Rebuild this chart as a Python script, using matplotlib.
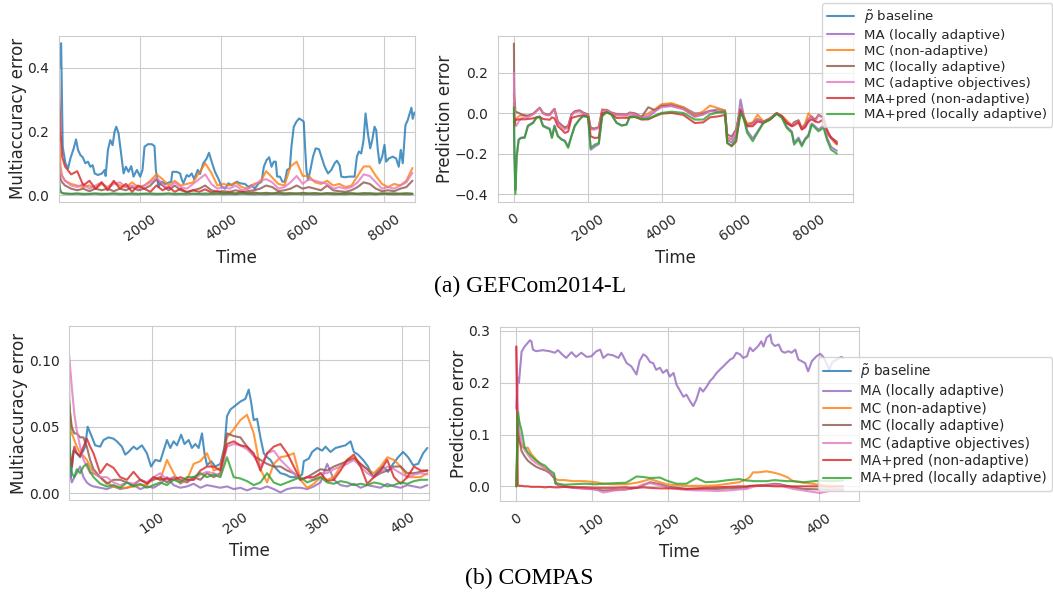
import matplotlib
matplotlib.use("Agg")
import matplotlib.pyplot as plt
import seaborn as sns

sns.set_style("whitegrid")
plt.rcParams["font.family"] = ["DejaVu Sans"]

methods = [
    r"$\tilde{p}$ baseline",
    "MA (locally adaptive)",
    "MC (non-adaptive)",
    "MC (locally adaptive)",
    "MC (adaptive objectives)",
    "MA+pred (non-adaptive)",
    "MA+pred (locally adaptive)",
]
colors = ["tab:blue", "tab:purple", "tab:orange", "tab:brown",
          "tab:pink", "tab:red", "tab:green"]

# ---------------- GEFCom2014-L: multiaccuracy error ----------------
gef_base_t = [10, 54, 93, 160, 225, 282, 364, 421, 470, 528, 585, 650, 716, 773, 830,
              880, 961, 1060, 1125, 1150, 1206, 1264, 1321, 1370, 1411, 1468, 1509,
              1551, 1591, 1649, 1713, 1779, 1836, 1918, 2000, 2057, 2106, 2189, 2287,
              2352, 2385, 2449, 2532, 2610, 2761, 2793, 2900, 2982, 3020, 3063, 3146,
              3200, 3268, 3330, 3416, 3470, 3554, 3636, 3693, 3759, 3840, 3922, 4004,
              4090, 4170, 4250, 4380, 4454, 4577, 4658, 4741, 4822, 4904, 4986, 5043,
              5109, 5174, 5232, 5288, 5337, 5370, 5437, 5501, 5558, 5615, 5681, 5722,
              5779, 5845, 5910, 5975, 6025, 6057, 6090, 6131, 6188, 6253, 6319, 6401,
              6458, 6540, 6622, 6704, 6785, 6842, 6908, 6949, 7030, 7153, 7276, 7333,
              7382, 7440, 7497, 7546, 7603, 7661, 7710, 7767, 7808, 7848, 7890, 7955,
              8012, 8053, 8118, 8216, 8299, 8363, 8412, 8462, 8528, 8584, 8643, 8675,
              8707, 8750]
gef_base_ma = [0.40, 0.478, 0.152, 0.10, 0.084, 0.115, 0.147, 0.175, 0.142, 0.126, 0.119,
               0.10, 0.105, 0.089, 0.094, 0.068, 0.063, 0.068, 0.079, 0.06, 0.142, 0.173,
               0.157, 0.20, 0.215, 0.194, 0.152, 0.11, 0.068, 0.089, 0.073, 0.091, 0.058,
               0.079, 0.058, 0.079, 0.152, 0.16, 0.16, 0.154, 0.079, 0.026, 0.042, 0.035,
               0.042, 0.073, 0.073, 0.068, 0.05, 0.037, 0.063, 0.058, 0.068, 0.05, 0.079,
               0.066, 0.10, 0.115, 0.133, 0.105, 0.073, 0.052, 0.026, 0.02, 0.037, 0.031,
               0.042, 0.037, 0.035, 0.026, 0.031, 0.02, 0.035, 0.042, 0.089, 0.11, 0.119,
               0.089, 0.105, 0.105, 0.058, 0.058, 0.042, 0.042, 0.079, 0.084, 0.152, 0.215,
               0.231, 0.241, 0.236, 0.231, 0.152, 0.079, 0.047, 0.079, 0.121, 0.147, 0.144,
               0.121, 0.089, 0.068, 0.079, 0.10, 0.108, 0.094, 0.058, 0.056, 0.058, 0.058,
               0.121, 0.137, 0.131, 0.173, 0.257, 0.194, 0.147, 0.173, 0.215, 0.204, 0.142,
               0.10, 0.121, 0.158, 0.105, 0.115, 0.121, 0.115, 0.089, 0.142, 0.10, 0.22,
               0.236, 0.262, 0.275, 0.24, 0.26]

gef_t = [0, 15, 40, 80, 150, 300, 450, 600, 750, 900,
         1050, 1200, 1350, 1500, 1650, 1800, 1950, 2100, 2250, 2400,
         2550, 2700, 2850, 3000, 3150, 3300, 3450, 3600, 3750, 3900,
         4050, 4200, 4350, 4500, 4650, 4800, 4950, 5100, 5250, 5400,
         5550, 5700, 5850, 6000, 6150, 6300, 6450, 6600, 6750, 6900,
         7050, 7200, 7350, 7500, 7650, 7800, 7950, 8100, 8250, 8400,
         8550, 8700]
gef_ma_local = [0.06, 0.03, 0.012, 0.006, 0.004, 0.003, 0.004, 0.002, 0.003, 0.004,
                0.002, 0.003, 0.004, 0.002, 0.003, 0.003, 0.002, 0.004, 0.003, 0.002,
                0.003, 0.004, 0.002, 0.003, 0.002, 0.004, 0.003, 0.002, 0.003, 0.004,
                0.002, 0.003, 0.002, 0.004, 0.003, 0.002, 0.003, 0.002, 0.004, 0.003,
                0.002, 0.003, 0.004, 0.002, 0.003, 0.002, 0.003, 0.004, 0.002, 0.003,
                0.002, 0.004, 0.003, 0.002, 0.003, 0.002, 0.004, 0.003, 0.002, 0.003,
                0.002, 0.003]
gef_mc_non = [0.20, 0.15, 0.09, 0.06, 0.045, 0.035, 0.03, 0.025, 0.03, 0.02,
              0.035, 0.025, 0.04, 0.03, 0.025, 0.04, 0.025, 0.03, 0.045, 0.065,
              0.05, 0.03, 0.045, 0.03, 0.035, 0.04, 0.07, 0.10, 0.07, 0.03,
              0.035, 0.03, 0.04, 0.025, 0.02, 0.035, 0.04, 0.075, 0.055, 0.035,
              0.03, 0.09, 0.105, 0.06, 0.06, 0.04, 0.035, 0.045, 0.03, 0.035,
              0.025, 0.03, 0.06, 0.09, 0.09, 0.06, 0.035, 0.025, 0.035, 0.03,
              0.045, 0.085]
gef_mc_local = [0.10, 0.07, 0.05, 0.04, 0.03, 0.02, 0.015, 0.02, 0.012, 0.02,
                0.015, 0.02, 0.012, 0.02, 0.015, 0.025, 0.015, 0.02, 0.03, 0.05,
                0.03, 0.015, 0.03, 0.015, 0.01, 0.015, 0.02, 0.03, 0.015, 0.01,
                0.012, 0.01, 0.015, 0.01, 0.012, 0.015, 0.02, 0.03, 0.025, 0.012,
                0.015, 0.02, 0.03, 0.02, 0.025, 0.02, 0.015, 0.03, 0.015, 0.012,
                0.01, 0.015, 0.025, 0.04, 0.035, 0.02, 0.012, 0.015, 0.012, 0.02,
                0.025, 0.045]
gef_mc_obj = [0.12, 0.09, 0.07, 0.06, 0.045, 0.03, 0.025, 0.035, 0.02, 0.03,
              0.04, 0.02, 0.035, 0.04, 0.025, 0.03, 0.02, 0.03, 0.04, 0.055,
              0.035, 0.02, 0.04, 0.025, 0.02, 0.035, 0.05, 0.065, 0.035, 0.02,
              0.025, 0.02, 0.03, 0.015, 0.02, 0.03, 0.045, 0.05, 0.04, 0.02,
              0.025, 0.04, 0.06, 0.035, 0.05, 0.045, 0.04, 0.035, 0.02, 0.025,
              0.02, 0.025, 0.04, 0.065, 0.06, 0.04, 0.02, 0.025, 0.02, 0.03,
              0.04, 0.07]
gef_pred_non = [0.39, 0.30, 0.20, 0.12, 0.09, 0.065, 0.075, 0.03, 0.045, 0.02,
                0.04, 0.015, 0.045, 0.02, 0.035, 0.01, 0.03, 0.02, 0.01, 0.03,
                0.015, 0.025, 0.01, 0.02, 0.008, 0.015, 0.01, 0.018, 0.008, 0.012,
                0.006, 0.008, 0.005, 0.01, 0.006, 0.008, 0.005, 0.007, 0.005, 0.008,
                0.005, 0.006, 0.004, 0.007, 0.005, 0.006, 0.004, 0.006, 0.005, 0.004,
                0.006, 0.005, 0.004, 0.006, 0.005, 0.004, 0.005, 0.004, 0.005, 0.004,
                0.005, 0.004]
gef_pred_local = [0.055, 0.025, 0.01, 0.006, 0.005, 0.004, 0.005, 0.004, 0.004, 0.005,
                  0.004, 0.004, 0.005, 0.004, 0.004, 0.005, 0.004, 0.004, 0.005, 0.004,
                  0.004, 0.005, 0.004, 0.004, 0.005, 0.004, 0.004, 0.005, 0.004, 0.004,
                  0.005, 0.004, 0.004, 0.005, 0.004, 0.004, 0.005, 0.004, 0.004, 0.005,
                  0.004, 0.004, 0.005, 0.004, 0.004, 0.005, 0.004, 0.004, 0.005, 0.004,
                  0.004, 0.005, 0.004, 0.004, 0.005, 0.004, 0.004, 0.005, 0.004, 0.004,
                  0.005, 0.004]

# ---------------- GEFCom2014-L: prediction error ----------------
gef_pt = [0, 10, 40, 75, 130, 200, 290, 380, 520, 610,
          700, 790, 880, 970, 1030, 1100, 1190, 1290, 1380, 1470,
          1560, 1650, 1780, 1870, 2010, 2080, 2190, 2300, 2390, 2510,
          2640, 2780, 2920, 3050, 3140, 3280, 3460, 3640, 3820, 4000,
          4270, 4590, 4900, 5130, 5310, 5540, 5720, 5780, 5900, 6020,
          6140, 6220, 6320, 6470, 6600, 6760, 6940, 7120, 7260, 7390,
          7530, 7590, 7710, 7800, 7890, 7980, 8070, 8160, 8250, 8390,
          8480, 8590, 8660, 8750]
gef_pe_ma_local = [0.05, -0.12, -0.38, -0.21, -0.13, -0.12, -0.118, -0.06, -0.045, -0.02,
                   -0.015, -0.06, -0.068, -0.075, -0.118, -0.06, -0.11, -0.128, -0.135, -0.165,
                   -0.11, -0.06, -0.028, -0.012, -0.015, -0.18, -0.165, -0.152, -0.012, 0.008,
                   -0.004, -0.045, -0.06, -0.055, -0.015, -0.012, -0.022, -0.018, 0.01, 0.04,
                   0.045, 0.03, 0.0, 0.002, 0.012, 0.02, 0.015, -0.13, -0.145, -0.11,
                   0.068, -0.005, -0.085, -0.125, -0.09, -0.045, -0.028, 0.0, -0.02, -0.065,
                   -0.09, -0.145, -0.12, -0.155, -0.125, -0.105, -0.05, -0.065, -0.08, -0.062,
                   -0.12, -0.165, -0.175, -0.185]
gef_pe_mc_non = [0.10, 0.0, -0.03, -0.025, -0.015, -0.01, -0.012, -0.015, -0.004, 0.012,
                 0.025, 0.0, -0.008, -0.008, 0.006, 0.02, -0.045, -0.062, -0.075, -0.066,
                 -0.008, 0.008, 0.012, 0.002, -0.008, -0.078, -0.078, -0.07, 0.02, 0.012,
                 -0.002, -0.01, -0.01, -0.012, -0.002, -0.004, -0.02, 0.0, 0.02, 0.045,
                 0.05, 0.03, -0.01, 0.01, 0.038, 0.025, 0.012, -0.12, -0.128, -0.085,
                 0.02, -0.015, -0.05, -0.045, -0.007, -0.04, -0.025, 0.0, -0.012, -0.035,
                 -0.06, -0.045, -0.035, -0.075, -0.05, 0.0, -0.02, -0.03, -0.01, -0.02,
                 -0.10, -0.12, -0.14, -0.155]
gef_pe_mc_local = [0.345, 0.10, 0.01, 0.005, 0.002, -0.005, -0.01, -0.012, -0.002, 0.012,
                   0.028, 0.002, -0.005, -0.006, 0.008, 0.022, -0.04, -0.058, -0.07, -0.062,
                   -0.005, 0.01, 0.015, 0.004, -0.006, -0.072, -0.075, -0.068, 0.014, 0.018,
                   0.004, -0.003, -0.004, -0.006, 0.004, 0.0, -0.018, 0.03, 0.015, 0.035,
                   0.038, 0.022, -0.015, -0.004, 0.012, 0.008, 0.008, -0.105, -0.115, -0.08,
                   0.02, -0.018, -0.06, -0.05, -0.028, -0.042, -0.025, 0.002, -0.015, -0.045,
                   -0.06, -0.045, -0.035, -0.075, -0.06, -0.028, -0.015, -0.035, -0.008, -0.02,
                   -0.095, -0.118, -0.13, -0.14]
gef_pe_mc_obj = [0.20, 0.05, -0.064, -0.06, -0.04, -0.025, -0.02, -0.018, -0.005, 0.01,
                 0.026, 0.0, -0.01, -0.01, 0.005, 0.02, -0.048, -0.065, -0.08, -0.07,
                 -0.01, 0.005, 0.01, 0.0, -0.01, -0.08, -0.08, -0.073, 0.01, 0.015,
                 0.0, -0.007, -0.007, -0.01, 0.0, -0.005, -0.023, -0.01, 0.01, 0.03,
                 0.035, 0.02, -0.018, -0.007, 0.01, 0.005, 0.005, -0.122, -0.13, -0.09,
                 0.018, -0.02, -0.064, -0.055, -0.03, -0.045, -0.028, 0.0, -0.018, -0.048,
                 -0.064, -0.05, -0.04, -0.08, -0.065, -0.03, -0.018, -0.04, -0.01, -0.023,
                 -0.10, -0.122, -0.135, -0.147]
gef_pe_pred_non = [0.0, -0.06, -0.03, -0.032, -0.03, -0.03, -0.03, -0.028, -0.025, -0.02,
                   -0.018, -0.028, -0.03, -0.032, -0.02, -0.025, -0.064, -0.08, -0.097, -0.09,
                   -0.023, -0.018, -0.012, -0.01, -0.018, -0.114, -0.122, -0.12, 0.0, 0.005,
                   -0.005, -0.023, -0.022, -0.023, -0.02, -0.018, -0.031, -0.03, -0.015, -0.002,
                   0.002, -0.008, -0.048, -0.045, -0.02, -0.015, -0.008, -0.147, -0.163, -0.14,
                   0.015, -0.025, -0.064, -0.064, -0.04, -0.048, -0.031, -0.002, -0.015, -0.048,
                   -0.064, -0.06, -0.045, -0.08, -0.07, -0.04, -0.03, -0.04, -0.045, -0.03,
                   -0.08, -0.122, -0.13, -0.15]
gef_pe_pred_local = [0.03, -0.20, -0.40, -0.213, -0.13, -0.122, -0.122, -0.064, -0.048, -0.023,
                     -0.018, -0.064, -0.072, -0.08, -0.122, -0.064, -0.114, -0.13, -0.138, -0.171,
                     -0.114, -0.064, -0.031, -0.015, -0.018, -0.171, -0.155, -0.147, -0.015, 0.005,
                     -0.006, -0.048, -0.061, -0.056, -0.018, -0.018, -0.028, -0.028, -0.011, 0.002,
                     0.008, 0.002, -0.031, -0.031, -0.006, 0.005, 0.005, -0.147, -0.16, -0.13,
                     0.0, -0.023, -0.097, -0.138, -0.097, -0.048, -0.031, -0.002, -0.023, -0.072,
                     -0.097, -0.155, -0.13, -0.163, -0.13, -0.114, -0.056, -0.072, -0.089, -0.072,
                     -0.13, -0.18, -0.188, -0.20]

# ---------------- COMPAS: multiaccuracy error ----------------
comp_base_t = [1, 3, 6, 10, 14, 20, 23, 27, 32, 38, 42, 48, 54, 58, 64, 68, 72, 78, 82,
               88, 94, 99, 104, 110, 114, 118, 122, 126, 130, 135, 139, 144, 148, 152,
               156, 160, 163, 166, 171, 176, 182, 187, 190, 194, 200, 206, 212, 216,
               219, 222, 226, 230, 234, 238, 242, 248, 254, 260, 266, 274, 280, 282,
               288, 292, 298, 304, 308, 314, 320, 326, 332, 338, 342, 347, 353, 359,
               365, 371, 377, 383, 389, 395, 401, 407, 413, 419, 425, 430]
comp_base_ma = [0.045, 0.012, 0.032, 0.03, 0.027, 0.035, 0.05, 0.044, 0.036, 0.035, 0.04,
                0.042, 0.041, 0.039, 0.035, 0.029, 0.031, 0.035, 0.033, 0.036, 0.03, 0.02,
                0.025, 0.024, 0.032, 0.04, 0.034, 0.039, 0.036, 0.044, 0.037, 0.04, 0.034,
                0.037, 0.034, 0.045, 0.03, 0.021, 0.024, 0.02, 0.022, 0.035, 0.058, 0.063,
                0.066, 0.069, 0.071, 0.078, 0.068, 0.055, 0.056, 0.042, 0.03, 0.027, 0.025,
                0.019, 0.015, 0.014, 0.012, 0.012, 0.014, 0.024, 0.026, 0.031, 0.034, 0.032,
                0.035, 0.031, 0.034, 0.035, 0.036, 0.039, 0.031, 0.029, 0.025, 0.02, 0.012,
                0.017, 0.02, 0.016, 0.022, 0.027, 0.031, 0.027, 0.021, 0.022, 0.03, 0.034]

comp_t = [0, 2, 4, 7, 10, 14, 18, 22, 26, 30,
          38, 46, 54, 62, 70, 78, 86, 94, 102, 110,
          118, 126, 134, 142, 150, 158, 166, 174, 182, 190,
          198, 206, 214, 222, 230, 238, 246, 254, 262, 270,
          278, 286, 294, 302, 310, 318, 326, 334, 342, 350,
          358, 366, 374, 382, 390, 398, 406, 414, 422, 430]
comp_ma_local = [0.03, 0.015, 0.008, 0.012, 0.015, 0.02, 0.012, 0.008, 0.006, 0.005,
                 0.004, 0.003, 0.005, 0.003, 0.004, 0.006, 0.003, 0.005, 0.004, 0.007,
                 0.012, 0.006, 0.004, 0.005, 0.007, 0.004, 0.006, 0.005, 0.004, 0.005,
                 0.003, 0.004, 0.002, 0.004, 0.003, 0.005, 0.003, 0.0005, 0.003, 0.004,
                 0.004, 0.003, 0.005, 0.008, 0.022, 0.01, 0.006, 0.005, 0.007, 0.004,
                 0.006, 0.005, 0.004, 0.007, 0.005, 0.004, 0.006, 0.005, 0.004, 0.006]
comp_mc_non = [0.075, 0.06, 0.045, 0.04, 0.035, 0.03, 0.028, 0.025, 0.02, 0.015,
               0.012, 0.008, 0.005, 0.004, 0.004, 0.005, 0.006, 0.006, 0.012, 0.01,
               0.025, 0.015, 0.007, 0.01, 0.022, 0.024, 0.03, 0.017, 0.019, 0.042,
               0.048, 0.055, 0.059, 0.045, 0.018, 0.008, 0.022, 0.027, 0.028, 0.03,
               0.01, 0.004, 0.007, 0.012, 0.01, 0.012, 0.02, 0.025, 0.027, 0.022,
               0.018, 0.015, 0.02, 0.027, 0.025, 0.02, 0.012, 0.012, 0.012, 0.015]
comp_mc_local = [0.075, 0.06, 0.05, 0.045, 0.045, 0.042, 0.042, 0.035, 0.025, 0.018,
                 0.012, 0.007, 0.01, 0.01, 0.008, 0.006, 0.01, 0.008, 0.01, 0.012,
                 0.008, 0.012, 0.01, 0.008, 0.012, 0.01, 0.015, 0.012, 0.015, 0.045,
                 0.043, 0.042, 0.035, 0.028, 0.025, 0.022, 0.02, 0.02, 0.017, 0.015,
                 0.01, 0.012, 0.015, 0.018, 0.017, 0.02, 0.022, 0.024, 0.026, 0.022,
                 0.018, 0.012, 0.015, 0.017, 0.02, 0.02, 0.015, 0.015, 0.016, 0.017]
comp_mc_obj = [0.11, 0.095, 0.08, 0.06, 0.047, 0.035, 0.025, 0.02, 0.015, 0.015,
               0.012, 0.012, 0.008, 0.006, 0.008, 0.007, 0.01, 0.008, 0.012, 0.015,
               0.01, 0.012, 0.008, 0.01, 0.01, 0.014, 0.016, 0.015, 0.013, 0.035,
               0.037, 0.036, 0.033, 0.028, 0.02, 0.03, 0.032, 0.025, 0.02, 0.015,
               0.01, 0.012, 0.01, 0.015, 0.015, 0.018, 0.02, 0.022, 0.025, 0.02,
               0.015, 0.012, 0.016, 0.02, 0.018, 0.015, 0.012, 0.014, 0.015, 0.014]
comp_pred_non = [0.012, 0.03, 0.02, 0.035, 0.03, 0.028, 0.035, 0.041, 0.035, 0.03,
                 0.015, 0.022, 0.019, 0.012, 0.01, 0.016, 0.01, 0.007, 0.012, 0.01,
                 0.011, 0.01, 0.012, 0.01, 0.01, 0.017, 0.02, 0.02, 0.017, 0.037,
                 0.039, 0.036, 0.035, 0.03, 0.017, 0.03, 0.035, 0.037, 0.03, 0.02,
                 0.01, 0.012, 0.012, 0.015, 0.009, 0.01, 0.017, 0.025, 0.029, 0.02,
                 0.007, 0.012, 0.017, 0.025, 0.012, 0.007, 0.012, 0.02, 0.017, 0.017]
comp_pred_local = [0.12, 0.02, 0.015, 0.012, 0.018, 0.015, 0.02, 0.022, 0.016, 0.012,
                   0.007, 0.005, 0.006, 0.004, 0.008, 0.005, 0.007, 0.004, 0.006, 0.008,
                   0.006, 0.01, 0.008, 0.012, 0.012, 0.015, 0.012, 0.014, 0.012, 0.027,
                   0.012, 0.011, 0.009, 0.006, 0.008, 0.015, 0.008, 0.006, 0.008, 0.01,
                   0.012, 0.008, 0.01, 0.012, 0.008, 0.007, 0.009, 0.008, 0.006, 0.007,
                   0.006, 0.008, 0.007, 0.005, 0.006, 0.008, 0.007, 0.009, 0.01, 0.01]

# ---------------- COMPAS: prediction error ----------------
comp_ma_pt = [0, 2, 3.5, 7, 11, 18, 20, 22, 26, 35, 44, 51, 55, 62, 66, 73, 79, 86, 93,
              99, 106, 111, 115, 121, 128, 135, 139, 146, 152, 159, 163, 168, 172, 177,
              181, 185, 190, 194, 199, 203, 208, 212, 216, 221, 225, 230, 234, 238, 243,
              247, 252, 256, 260, 265, 269, 274, 278, 283, 287, 291, 296, 300, 305, 309,
              313, 320, 324, 327, 331, 336, 338, 342, 347, 351, 355, 360, 364, 369, 373,
              377, 382, 386, 391, 397, 402, 406, 411, 414, 418, 424, 430, 432]
comp_pe_ma_local = [0.15, 0.21, 0.20, 0.26, 0.27, 0.282, 0.28, 0.264, 0.261, 0.263, 0.261,
                    0.258, 0.263, 0.253, 0.248, 0.259, 0.25, 0.258, 0.25, 0.251, 0.261, 0.264,
                    0.248, 0.255, 0.253, 0.248, 0.258, 0.238, 0.232, 0.216, 0.242, 0.255,
                    0.251, 0.24, 0.238, 0.225, 0.229, 0.219, 0.225, 0.212, 0.219, 0.196, 0.186,
                    0.173, 0.177, 0.164, 0.155, 0.167, 0.19, 0.183, 0.193, 0.203, 0.209, 0.219,
                    0.225, 0.232, 0.238, 0.245, 0.248, 0.258, 0.255, 0.248, 0.251, 0.268,
                    0.261, 0.271, 0.28, 0.27, 0.287, 0.293, 0.277, 0.271, 0.274, 0.261, 0.258,
                    0.261, 0.258, 0.264, 0.245, 0.242, 0.238, 0.222, 0.242, 0.251, 0.256,
                    0.25, 0.235, 0.225, 0.24, 0.245, 0.25, 0.248]

comp_pt = [0, 2, 4, 7, 11, 15, 20, 26, 32, 38,
           44, 50, 52, 56, 64, 75, 90, 105, 115, 130,
           145, 150, 159, 168, 177, 190, 199, 212, 225, 238,
           250, 265, 280, 295, 305, 309, 313, 320, 331, 342,
           349, 358, 366, 380, 402, 416, 432]
comp_pe_mc_non = [0.0, 0.10, 0.09, 0.078, 0.073, 0.075, 0.062, 0.052, 0.043, 0.035,
                  0.027, 0.018, 0.014, 0.012, 0.012, 0.01, 0.01, 0.008, 0.005, 0.004,
                  0.004, 0.005, 0.007, 0.01, 0.014, 0.008, 0.004, 0.002, 0.001, 0.001,
                  0.001, 0.002, 0.005, 0.008, 0.014, 0.018, 0.027, 0.027, 0.029, 0.026,
                  0.023, 0.018, 0.01, 0.007, 0.003, 0.001, 0.0]
comp_pe_mc_local = [0.0, 0.12, 0.09, 0.068, 0.058, 0.05, 0.044, 0.038, 0.034, 0.031,
                    0.026, 0.016, 0.005, 0.002, 0.0, -0.002, -0.004, -0.006, -0.008, -0.007,
                    -0.006, -0.005, -0.003, 0.002, 0.008, 0.004, 0.0, -0.003, -0.005, -0.005,
                    -0.005, -0.005, -0.004, -0.003, -0.002, 0.0, 0.001, 0.002, 0.003, 0.005,
                    0.004, 0.001, -0.002, -0.005, -0.006, -0.006, -0.006]
comp_pe_mc_obj = [0.27, 0.16, 0.108, 0.085, 0.07, 0.062, 0.052, 0.045, 0.04, 0.034,
                  0.028, 0.02, 0.008, 0.002, -0.001, -0.003, -0.005, -0.006, -0.012, -0.008,
                  -0.006, -0.004, -0.002, 0.004, 0.006, 0.002, -0.002, -0.005, -0.007, -0.008,
                  -0.008, -0.009, -0.008, -0.006, -0.005, -0.003, -0.001, 0.001, 0.002, 0.003,
                  0.002, -0.002, -0.005, -0.008, -0.013, -0.008, -0.008]
comp_pe_pred_non = [0.27, 0.002, 0.001, 0.001, 0.0, 0.0, -0.001, -0.001, -0.001, -0.002,
                    -0.001, -0.002, -0.002, -0.002, -0.001, -0.002, -0.002, -0.003, -0.003, -0.003,
                    -0.002, -0.003, -0.003, -0.002, -0.003, -0.004, -0.004, -0.004, -0.005, -0.004,
                    -0.003, -0.002, -0.001, 0.0, 0.0, 0.001, 0.001, 0.001, 0.001, 0.0,
                    0.0, 0.0, 0.0, 0.0, 0.0, -0.001, 0.0]
comp_pe_pred_local = [0.0, 0.143, 0.125, 0.108, 0.076, 0.066, 0.058, 0.05, 0.044, 0.04,
                      0.031, 0.025, 0.006, 0.005, 0.003, 0.004, 0.005, 0.004, 0.005, 0.006,
                      0.007, 0.011, 0.019, 0.018, 0.016, 0.017, 0.011, 0.005, 0.005, 0.016,
                      0.008, 0.009, 0.012, 0.014, 0.011, 0.011, 0.01, 0.01, 0.01, 0.012,
                      0.011, 0.01, 0.01, 0.008, 0.011, 0.01, 0.011]


def draw_lines(ax, lines):
    for (t, y), label, color in zip(lines, methods, colors):
        ax.plot(t, y, color=color, alpha=0.8, lw=1.5, label=label)


def style_axis(ax, ylabel, yticks):
    ax.set_xlabel("Time", fontsize=12)
    ax.set_ylabel(ylabel, fontsize=12, labelpad=0.5)
    ax.set_yticks(yticks)
    ax.tick_params(axis="both", labelsize=10)
    for lab in ax.get_xticklabels():
        lab.set_rotation(35)


fig = plt.figure(figsize=(10.53, 5.94), dpi=100)

ax_a1 = fig.add_axes([0.056, 0.660, 0.338, 0.280])
draw_lines(ax_a1, [
    (gef_base_t, gef_base_ma), (gef_t, gef_ma_local), (gef_t, gef_mc_non),
    (gef_t, gef_mc_local), (gef_t, gef_mc_obj), (gef_t, gef_pred_non),
    (gef_t, gef_pred_local)])
ax_a1.set_xlim(1, 8760)
style_axis(ax_a1, "Multiaccuracy error", [0.0, 0.2, 0.4])

ax_a2 = fig.add_axes([0.4727, 0.6604, 0.3374, 0.2790])
draw_lines(ax_a2, [
    ([], []), (gef_pt, gef_pe_ma_local), (gef_pt, gef_pe_mc_non),
    (gef_pt, gef_pe_mc_local), (gef_pt, gef_pe_mc_obj), (gef_pt, gef_pe_pred_non),
    (gef_pt, gef_pe_pred_local)])
style_axis(ax_a2, "Prediction error", [-0.4, -0.2, 0.0, 0.2])
ax_a2.legend(loc="upper left", bbox_to_anchor=(822 / 1053, 1 - 3 / 594),
             bbox_transform=fig.transFigure, borderaxespad=0, fontsize=9.6,
             labelspacing=0.22, handletextpad=0.75)

ax_b1 = fig.add_axes([0.0658, 0.1577, 0.3416, 0.2935])
draw_lines(ax_b1, [
    (comp_base_t, comp_base_ma), (comp_t, comp_ma_local), (comp_t, comp_mc_non),
    (comp_t, comp_mc_local), (comp_t, comp_mc_obj), (comp_t, comp_pred_non),
    (comp_t, comp_pred_local)])
ax_b1.set_xlim(1, 432)
style_axis(ax_b1, "Multiaccuracy error", [0.0, 0.05, 0.10])

ax_b2 = fig.add_axes([0.4748, 0.1566, 0.3412, 0.2934])
draw_lines(ax_b2, [
    ([], []), (comp_ma_pt, comp_pe_ma_local), (comp_pt, comp_pe_mc_non),
    (comp_pt, comp_pe_mc_local), (comp_pt, comp_pe_mc_obj), (comp_pt, comp_pe_pred_non),
    (comp_pt, comp_pe_pred_local)])
style_axis(ax_b2, "Prediction error", [0.0, 0.1, 0.2, 0.3])
ax_b2.legend(loc="upper left", bbox_to_anchor=(818 / 1053, 1 - 357 / 594),
             bbox_transform=fig.transFigure, borderaxespad=0, fontsize=9.8,
             labelspacing=0.25, handletextpad=0.7)

fig.text(0.503, 0.517, "(a) GEFCom2014-L", ha="center", va="center",
         family="Liberation Serif", fontsize=17, color="black")
fig.text(0.503, 0.027, "(b) COMPAS", ha="center", va="center",
         family="Liberation Serif", fontsize=17, color="black")

fig.savefig("out.png", dpi=100)
